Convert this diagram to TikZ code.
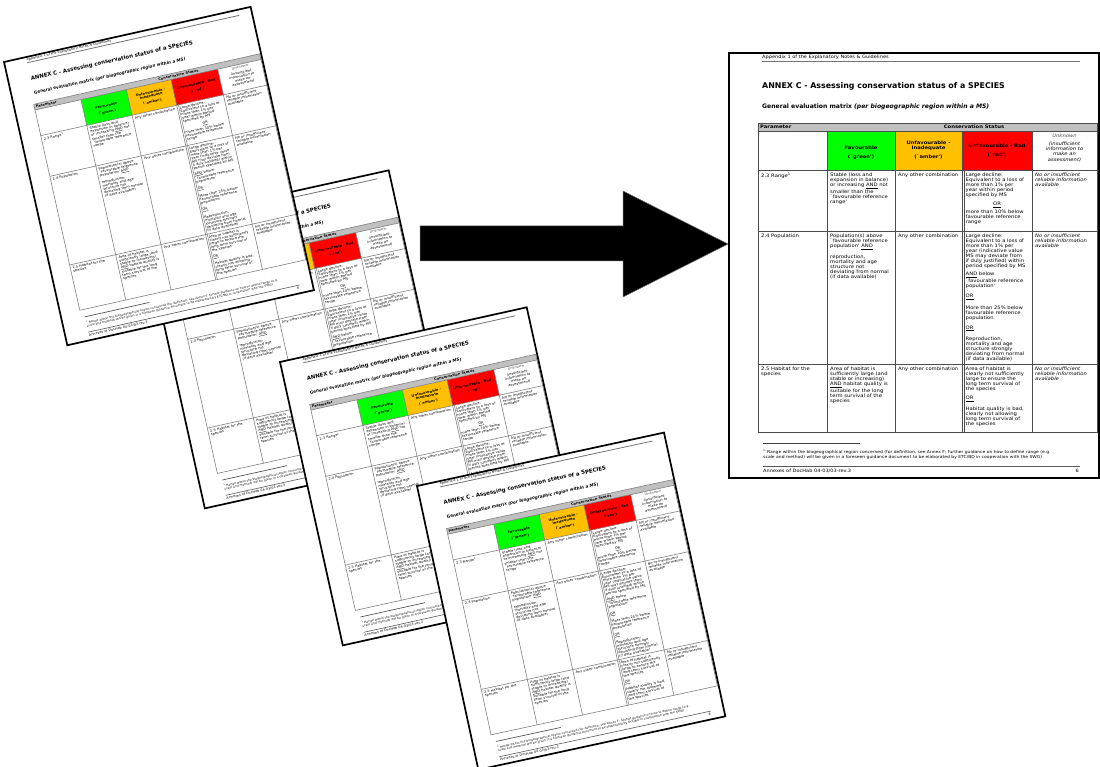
\documentclass[tikz,border=0pt]{standalone}
\usepackage{fontspec}
\usetikzlibrary{calc}
\setmainfont{DejaVu Sans}
\newfontfamily\cellfont[FakeStretch=1.12]{DejaVu Sans}
\definecolor{cgreen}{RGB}{0,255,0}
\definecolor{camber}{RGB}{255,192,0}
\definecolor{cred}{RGB}{255,0,0}
\definecolor{cgrayhdr}{RGB}{192,192,192}
\tikzset{
  txt/.style={inner sep=0pt, text=black, font=\cellfont\fontsize{4.7}{5}\selectfont},
  cell/.style={txt, anchor=north west, align=left},
  icell/.style={cell, font=\cellfont\itshape\fontsize{4.7}{5}\selectfont},
  hcell/.style={txt, anchor=center, align=center, font=\cellfont\bfseries\fontsize{4.7}{5}\selectfont},
  ihcell/.style={txt, anchor=north, align=center, font=\cellfont\itshape\fontsize{4.7}{5.2}\selectfont},
  tblline/.style={draw=black!70, line width=0.9pt},
  rulegray/.style={draw=black!55, line width=0.8pt},
  mainframe/.style={draw=black, line width=1.1pt},
  thumbframe/.style={draw=black, line width=1.7pt},
  bigarrow/.style={fill=black, draw=black!60, line width=0.5pt},
}
\newcommand{\drawdocpage}[2]{%
  \fill[white] (0,0) rectangle (370,425);
  % running head
  \node[txt, anchor=west, font=\cellfont\fontsize{4.5}{5}\selectfont] (#1-hd) at (33,4) {Appendix 1 of the Explanatory Notes \& Guidelines};
  \draw[rulegray] (33,8.5) -- (351,8.5);
  % titles
  \node[txt, anchor=west, font=\bfseries\fontsize{7.9}{9}\selectfont] (#1-tt) at (33,33) {ANNEX C - Assessing conservation status of a SPECIES};
  \node[txt, anchor=west, font=\bfseries\fontsize{6.1}{7}\selectfont] (#1-st) at (33,54) {General evaluation matrix \textit{(per biogeographic region within a MS)}};
  % table fills
  \fill[cgrayhdr] (29,70) rectangle (368,78.5);
  \fill[cgreen] (98,78.5) rectangle (166,117);
  \fill[camber] (166,78.5) rectangle (233,117);
  \fill[cred] (233,78.5) rectangle (303,117);
  % table lines
  \draw[tblline] (29,70) rectangle (368,379);
  \draw[tblline] (29,78.5) -- (368,78.5) (29,117) -- (368,117) (29,178) -- (368,178) (29,311) -- (368,311);
  \draw[tblline] (98,78.5) -- (98,379) (166,78.5) -- (166,379) (233,78.5) -- (233,379) (303,78.5) -- (303,379);
  \draw[tblline, line width=0.5pt] (235.5,117) -- (235.5,379);
  % header rows
  \node[txt, anchor=west, font=\cellfont\bfseries\fontsize{4.7}{5}\selectfont] (#1-par) at (31,74.2) {Parameter};
  \node[txt, font=\cellfont\bfseries\fontsize{4.7}{5}\selectfont] (#1-cs) at (245,74.2) {Conservation Status};
  \node[hcell] (#1-h2) at (132,100) {Favourable\\[4pt](`green')};
  \node[hcell] (#1-h3) at (199.5,97.5) {Unfavourable -\\Inadequate\\[4pt](`amber')};
  \node[hcell] (#1-h4) at (268,97.5) {Unfavourable - Bad\\[4pt](`red')};
  \node[ihcell] (#1-h5) at (335.5,80.5) {\textcolor{black!70}{Unknown}\\[3pt](insufficient\\information to\\make an\\assessment)};
  % row 2.3
  \node[cell] (#1-a1) at (32,120) {2.3 Range\textsuperscript{1}};
  \node[cell] (#1-a2) at (101,120) {Stable (loss and\\expansion in balance)\\or increasing \underline{AND} not\\smaller than the\\`favourable reference\\range'};
  \node[cell] (#1-a3) at (169,120) {Any other combination};
  \node[cell] (#1-a4) at (236.5,120) {Large decline:\\Equivalent to a loss of\\more than 1\% per\\year within period\\specified by MS};
  \node[txt] (#1-a4or) at (268,152) {\underline{OR}};
  \node[cell] (#1-a4b) at (236.5,157) {more than 10\% below\\favourable reference\\range};
  \node[icell] (#1-a5) at (306,120) {No or insufficient\\reliable information\\available};
  % row 2.4
  \node[cell] (#1-b1) at (32,181) {2.4 Population};
  \node[cell] (#1-b2) at (101,181) {Population(s) above\\`favourable reference\\population' \underline{AND}\\[4pt]reproduction,\\mortality and age\\structure not\\deviating from normal\\(if data available)};
  \node[cell] (#1-b3) at (169,181) {Any other combination};
  \node[cell] (#1-b4) at (236.5,181) {Large decline:\\Equivalent to a loss of\\more than 1\% per\\year (indicative value\\MS may deviate from\\if duly justified) within\\period specified by MS\\[3pt]\underline{AND} below\\`favourable reference\\population'\\[5pt]\underline{OR}\\[5pt]More than 25\% below\\favourable reference\\population\\[5pt]\underline{OR}\\[5pt]Reproduction,\\mortality and age\\structure strongly\\deviating from normal\\(if data available)};
  \node[icell] (#1-b5) at (306,181) {No or insufficient\\reliable information\\available};
  % row 2.5
  \node[cell] (#1-c1) at (32,314) {2.5 Habitat for the\\species};
  \node[cell] (#1-c2) at (101,314) {Area of habitat is\\sufficiently large (and\\stable or increasing)\\\underline{AND} habitat quality is\\suitable for the long\\term survival of the\\species};
  \node[cell] (#1-c3) at (169,314) {Any other combination};
  \node[cell] (#1-c4) at (236.5,314) {Area of habitat is\\clearly not sufficiently\\large to ensure the\\long term survival of\\the species\\[4pt]\underline{OR}\\[4pt]Habitat quality is bad,\\clearly not allowing\\long term survival of\\the species};
  \node[icell] (#1-c5) at (306,314) {No or insufficient\\reliable information\\available};
  % footnote and footer
  \draw[black!75, line width=0.6pt] (34,390) -- (131,390);
  \node[cell, font=\cellfont\fontsize{4.0}{4.6}\selectfont] (#1-fn) at (34,396.5) {\textsuperscript{1} Range within the biogeographical region concerned (for definition, see Annex F; further guidance on how to define range (e.g.\\scale and method) will be given in a foreseen guidance document to be elaborated by ETC/BD in cooperation with the SWG)};
  \draw[black!65, line width=0.6pt] (34,413) -- (351,413);
  \node[txt, anchor=west, font=\cellfont\fontsize{4.5}{5}\selectfont] (#1-ft) at (34,417.5) {Annexes of DocHab 04-03/03-rev.3};
  \node[txt, anchor=east, font=\cellfont\fontsize{4.5}{5}\selectfont] (#1-pg) at (350,417.5) {6};
  \draw[#2] (0,0) rectangle (370,425);
}
\begin{document}
\begin{tikzpicture}[x=1pt,y=-1pt]
  \useasboundingbox (0,0) rectangle (1100,767);
  \fill[white] (0,0) rectangle (1100,767);
  % stacked, tilted copies
  \begin{scope}[shift={(142,225)}, rotate=12.5, scale=0.683, transform shape, tblline/.style={draw=black!50, line width=0.6pt}]
    \drawdocpage{pB}{thumbframe}
  \end{scope}
  \begin{scope}[shift={(4,62)}, rotate=12.6, scale=0.683, transform shape, tblline/.style={draw=black!50, line width=0.6pt}]
    \drawdocpage{pA}{thumbframe}
  \end{scope}
  \begin{scope}[shift={(280,362)}, rotate=12.5, scale=0.683, transform shape, tblline/.style={draw=black!50, line width=0.6pt}]
    \drawdocpage{pC}{thumbframe}
  \end{scope}
  \begin{scope}[shift={(417,486)}, rotate=12.2, scale=0.683, transform shape, tblline/.style={draw=black!50, line width=0.6pt}]
    \drawdocpage{pD}{thumbframe}
  \end{scope}
  % big arrow
  \coordinate (arrowtail) at (420,243.5);
  \coordinate (arrowtip) at (728,244);
  \fill[bigarrow] ($(arrowtail)+(0,-17.5)$) -- (623,226) -- (623,191) -- (arrowtip) -- (623,297) -- (623,261) -- ($(arrowtail)+(0,17.5)$) -- cycle;
  % result page
  \begin{scope}[shift={(729,53)}]
    \drawdocpage{pM}{mainframe}
  \end{scope}
\end{tikzpicture}
\end{document}
